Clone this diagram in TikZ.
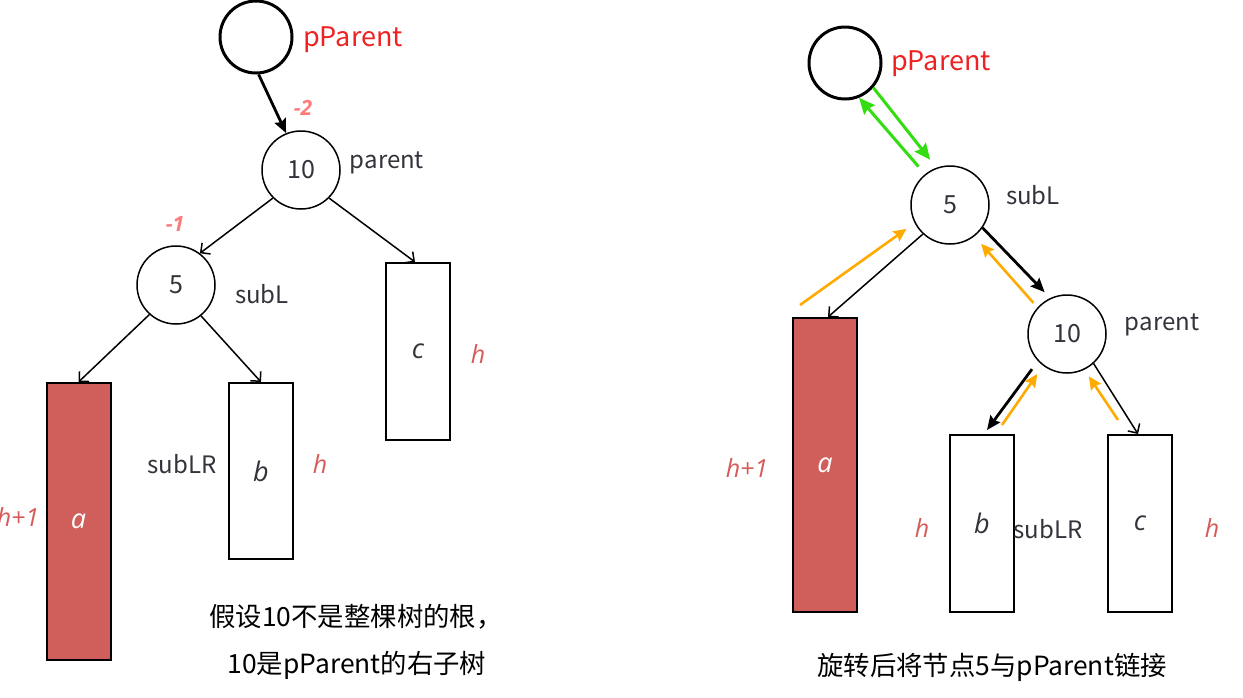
\documentclass[tikz,border=0pt]{standalone}
\usepackage{fontspec}
\setmainfont{Noto Sans CJK SC}
\newfontfamily\itf{Open Sans}
\usetikzlibrary{arrows.meta}
\definecolor{txt}{HTML}{33333B}
\definecolor{pred}{HTML}{EE2222}
\definecolor{hred}{HTML}{D65A57}
\definecolor{bal}{HTML}{FF7B7B}
\definecolor{afill}{HTML}{D05E5A}
\definecolor{grn}{HTML}{33DD11}
\definecolor{org}{HTML}{FFAA00}
\begin{document}
\begin{tikzpicture}[x=0.5pt,y=-0.5pt,
  circ/.style={circle,draw,line width=0.75pt,minimum size=39pt,inner sep=0pt,
    font=\fontsize{12.5}{14}\selectfont,text=txt},
  topc/.style={circle,draw,line width=1.5pt,minimum size=36pt,inner sep=0pt},
  tree/.style={draw,line width=1pt,minimum width=32pt,inner sep=0pt,
    font=\itf\itshape\fontsize{13.5}{16}\selectfont,text=txt},
  redtree/.style={tree,fill=afill,text=white},
  lbl/.style={font=\fontsize{12}{14}\selectfont,text=txt,inner sep=0pt},
  plbl/.style={font=\fontsize{13.5}{16}\selectfont,text=pred,inner sep=0pt},
  hlbl/.style={font=\itf\itshape\fontsize{12.5}{15}\selectfont,text=hred,inner sep=0pt},
  bf/.style={font=\itf\bfseries\itshape\fontsize{10.5}{12}\selectfont,text=bal,inner sep=0pt},
  captext/.style={font=\fontsize{13.2}{16}\selectfont,text=black,inner sep=0pt},
  thin/.style={line width=0.75pt,-{Straight Barb[length=3.5pt,width=7pt]}},
  thickb/.style={line width=1.4pt,-{Stealth[length=7pt,width=6pt,inset=1pt]}},
  garr/.style={grn,line width=1.5pt,-{Stealth[length=8pt,width=7pt,inset=1pt]}},
  oarr/.style={org,line width=1.3pt,-{Stealth[length=6.5pt,width=6pt,inset=1pt]}}
]
\useasboundingbox (0,0) rectangle (1243,697);

% ---------------- left ----------------
\node[topc] (pp1) at (256,37) {};
\node[plbl] (pp1t) at (353,40) {pParent};
\node[circ] (n10) at (301,170) {10};
\node[lbl] (n10t) at (387,163) {parent};
\node[bf] (m2) at (303,108) {-2};
\node[circ] (n5) at (176,285) {5};
\node[lbl] (n5t) at (262,294) {subL};
\node[bf] (m1) at (175,224) {-1};
\node[redtree,minimum height=138.5pt] (a1) at (78.5,521.5) {a};
\node[tree,minimum height=88pt] (b1) at (261,471) {b};
\node[tree,minimum height=88.5pt] (c1) at (418,351.5) {c};
\node[hlbl] (h1a) at (18,517) {h+1};
\node[lbl] (slr1) at (182,464) {subLR};
\node[hlbl] (h1b) at (320,464) {h};
\node[hlbl] (h1c) at (478,354) {h};
\node[captext] (cap1a) at (356,617) {假设10不是整棵树的根，};
\node[captext] (cap1b) at (357,665) {10是pParent的右子树};

\draw[thickb] (pp1.-86) -- (n10.112);
\draw[thin] (n10.-135) -- (n5.53);
\draw[thin] (n10.-45) -- ([xshift=-1.5pt]c1.north);
\draw[thin] (n5.-132) -- (a1.north);
\draw[thin] (n5.-51) -- (b1.north);

% ---------------- right ----------------
\node[topc] (pp2) at (845,63) {};
\node[plbl] (pp2t) at (941,64) {pParent};
\node[circ] (n5r) at (950,205) {5};
\node[lbl] (n5rt) at (1033,195) {subL};
\node[circ] (n10r) at (1067,334) {10};
\node[lbl] (n10rt) at (1162,325) {parent};
\node[redtree,minimum height=147pt] (a2) at (825,465) {a};
\node[tree,minimum height=88.5pt] (b2) at (982,523.5) {b};
\node[tree,minimum height=88.5pt] (c2) at (1140,523.5) {c};
\node[hlbl] (h2a) at (747,468) {h+1};
\node[hlbl] (h2b) at (922,528) {h};
\node[lbl] (slr2) at (1048,529) {subLR};
\node[hlbl] (h2c) at (1212,528) {h};
\node[captext] (cap2) at (992,667) {旋转后将节点5与pParent链接};

\draw[garr,shorten >=5pt] (pp2.-41) -- (n5r.110);
\draw[garr,shorten <=5pt] (n5r.129) -- (pp2.-68);
\draw[oarr,shorten >=5pt] ([shift={(8,-12)}]a2.north west) -- (n5r.-153);
\draw[thin] (n5r.-133) -- ([xshift=1.5pt]a2.north);
\draw[thickb,shorten >=4pt] (n5r.-35) -- (n10r.115);
\draw[oarr,shorten <=3pt,shorten >=5pt] (n10r.138) -- (n5r.-52);
\draw[thickb,shorten <=5pt] (n10r.-137) -- ([xshift=2.5pt,yshift=2pt]b2.north);
\draw[oarr,shorten >=5pt] ([shift={(20,-9)}]b2.north) -- (n10r.-127);
\draw[oarr,shorten >=4pt] ([shift={(-22,-14)}]c2.north) -- (n10r.-64);
\draw[thin] (n10r.-48) -- ([xshift=-1pt]c2.north);
\end{tikzpicture}
\end{document}
